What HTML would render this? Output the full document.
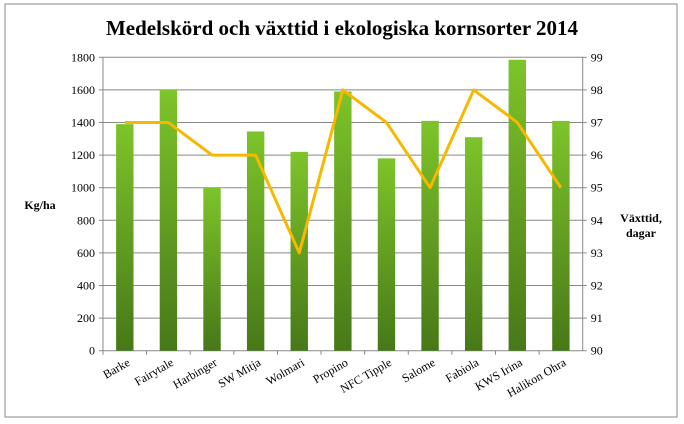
<!DOCTYPE html>
<html><head><meta charset="utf-8"><style>
body{margin:0;background:#fff;}
svg{display:block;font-family:"Liberation Serif",serif;}
</style></head><body>
<svg id="chart" width="684" height="424">
<defs><linearGradient id="g" x1="0" y1="0" x2="0" y2="1">
<stop offset="0" stop-color="#7dc42a"/><stop offset="1" stop-color="#477818"/></linearGradient></defs>
<rect x="5" y="4" width="672" height="413" fill="#fff" stroke="#888"/>
<text x="342" y="35" text-anchor="middle" font-size="21" font-weight="bold">Medelskörd och växttid i ekologiska kornsorter 2014</text>
<text x="40" y="209" text-anchor="middle" font-size="12" font-weight="bold">Kg/ha</text>
<text x="641" y="222" text-anchor="middle" font-size="12" font-weight="bold"><tspan x="641">Växttid,</tspan><tspan x="641" dy="15">dagar</tspan></text>
<g id="grid"></g><g id="bars"></g><g id="line"></g><g id="axes"></g>
</svg>
<script>
const categories=["Barke","Fairytale","Harbinger","SW Mitja","Wolmari","Propino","NFC Tipple","Salome","Fabiola","KWS Irina","Halikon Ohra"];
const yields=[1390,1600,1000,1345,1220,1590,1180,1410,1310,1785,1410];
const days=[97,97,96,96,93,98,97,95,98,97,95];
const leftTicks=[0,200,400,600,800,1000,1200,1400,1600,1800];
const rightTicks=[90,91,92,93,94,95,96,97,98,99];
const NS="http://www.w3.org/2000/svg";
const X0=103,X1=582.7,Y0=350.7,Y1=57.3;
const bw=(X1-X0)/categories.length;
const yL=v=>Y0-(v/1800)*(Y0-Y1);
const yR=v=>Y0-((v-90)/9)*(Y0-Y1);
const xc=i=>X0+bw*(i+0.5);
function mk(t,a,p){const e=document.createElementNS(NS,t);for(const k in a)e.setAttribute(k,a[k]);p.appendChild(e);return e;}
const grid=document.getElementById('grid'),bars=document.getElementById('bars'),line=document.getElementById('line'),axes=document.getElementById('axes');
leftTicks.forEach(v=>{
 const l=mk('line',{x1:X0,x2:X1,y1:yL(v),y2:yL(v),stroke:'#888','stroke-width':1},grid);
 
 
 const t=mk('text',{x:X0-8,y:yL(v)+4,'text-anchor':'end','font-size':12},axes);
 t.textContent=v;
 
 
 mk('line',{x1:X0-4,x2:X0,y1:yL(v),y2:yL(v),stroke:'#888'},axes);
});
rightTicks.forEach(v=>{
 const t=mk('text',{x:X1+8,y:yR(v)+4,'font-size':12},axes);
 t.textContent=v;
 
 
 mk('line',{x1:X1,x2:X1+4,y1:yR(v),y2:yR(v),stroke:'#888'},axes);
});
mk('line',{x1:X0,x2:X0,y1:Y1,y2:Y0,stroke:'#888'},axes);
mk('line',{x1:X1,x2:X1,y1:Y1,y2:Y0,stroke:'#888'},axes);
categories.forEach((c,i)=>{
 const r=mk('rect',{x:xc(i)-8.7,y:yL(yields[i]),width:17.4,height:Y0-yL(yields[i]),fill:'url(#g)'},bars);
 
 
 mk('line',{x1:X0+bw*i,x2:X0+bw*i,y1:Y0,y2:Y0+4,stroke:'#888'},axes);
 const t=mk('text',{transform:`translate(${xc(i)+6},${Y0+14}) rotate(-30)`,'text-anchor':'end','font-size':12},axes);
 t.textContent=c;
 
 
});
const pl=mk('polyline',{points:days.map((d,i)=>xc(i)+','+yR(d)).join(' '),fill:'none',stroke:'#f6b800','stroke-width':3,'stroke-linejoin':'round'},line);


</script>
</body></html>
